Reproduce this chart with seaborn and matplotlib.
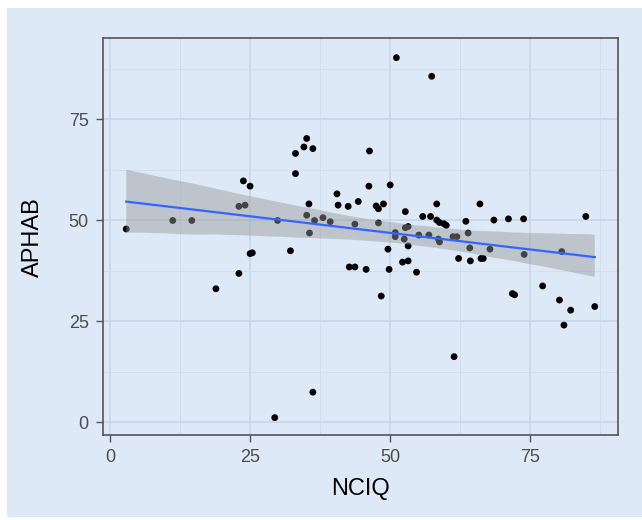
import numpy as np
import pandas as pd
import matplotlib
matplotlib.use("Agg")
import matplotlib.pyplot as plt
from matplotlib.patches import Rectangle
from matplotlib.ticker import MultipleLocator
import seaborn as sns

# Data
nciq = [2.9, 11.2, 14.6, 23.0, 24.1, 23.8, 25.0, 29.9, 32.2, 33.1,
        33.1, 34.6, 35.1, 36.2, 35.5, 35.1, 36.5, 35.6, 38.0, 39.3,
        40.5, 40.7, 42.5, 44.3, 43.7, 46.3, 46.2, 51.1, 57.4, 50.0,
        47.5, 47.9, 48.8, 47.9, 52.7, 50.9, 50.9, 52.5, 52.7, 53.2,
        53.2, 49.6, 55.1, 55.8, 57.2, 56.9, 58.3, 58.3, 58.8, 59.6,
        60.0, 58.6, 58.8, 61.2, 61.9, 63.5, 63.9, 64.2, 66.0, 67.8,
        68.5, 71.1, 73.8, 80.6, 84.9, 25.0, 25.4, 23.0, 18.9, 42.7,
        43.7, 45.7, 36.2, 29.4, 49.8, 48.4, 52.2, 53.2, 54.7, 62.2,
        64.3, 66.2, 66.6, 61.4, 73.9, 71.8, 72.2, 77.2, 80.2, 82.2,
        81.0, 86.5]
aphab = [47.9, 50.0, 50.0, 53.5, 53.8, 59.8, 58.5, 50.0, 42.5, 66.6,
         61.6, 68.2, 70.3, 67.8, 54.1, 51.3, 50.0, 46.9, 50.7, 49.7,
         56.6, 53.8, 53.5, 54.7, 49.1, 67.2, 58.5, 90.3, 85.7, 58.8,
         53.6, 52.9, 54.1, 49.4, 52.2, 47.0, 46.0, 45.4, 48.2, 48.5,
         43.7, 42.9, 46.4, 51.0, 51.0, 46.4, 54.1, 50.1, 49.5, 49.2,
         48.8, 45.4, 44.7, 46.0, 46.0, 49.8, 46.9, 43.2, 54.1, 42.9,
         50.1, 50.4, 50.4, 42.3, 51.0, 41.8, 42.0, 36.9, 33.1, 38.5,
         38.5, 37.9, 7.5, 1.2, 37.9, 31.3, 39.7, 40.0, 37.2, 40.6,
         40.0, 40.6, 40.6, 16.3, 41.6, 31.9, 31.6, 33.8, 30.3, 27.8,
         24.1, 28.7]

df = pd.DataFrame({"NCIQ": nciq, "APHAB": aphab})

bg = "#dde9f7"

fig = plt.figure(figsize=(6.42, 5.2), dpi=100, facecolor="white")
fig.patches.append(Rectangle((7 / 642, 0.006), 1, 1 - 8 / 520 - 0.006,
                             transform=fig.transFigure, facecolor=bg,
                             edgecolor="none", zorder=-10))
ax = fig.add_axes([102.7 / 642, 1 - 435 / 520, (618.3 - 102.7) / 642,
                   (435 - 38.3) / 520])
ax.set_facecolor(bg)

sns.scatterplot(data=df, x="NCIQ", y="APHAB", ax=ax, color="black",
                s=24, edgecolor="none", zorder=2)
sns.regplot(data=df, x="NCIQ", y="APHAB", ax=ax, scatter=False,
            color="#3366FF", ci=95, seed=3, line_kws={"lw": 1.6, "zorder": 4})

# ggplot-like grey band over the points
for coll in ax.collections[1:]:
    coll.set_alpha(None)
    coll.set_facecolor((0.6, 0.6, 0.6, 0.45))
    coll.set_edgecolor("none")
    coll.set_zorder(3)

ax.set_xlim(-1.3, 90.7)
ax.set_ylim(-3.1, 95.1)
ax.xaxis.set_major_locator(MultipleLocator(25))
ax.yaxis.set_major_locator(MultipleLocator(25))
ax.xaxis.set_minor_locator(MultipleLocator(12.5))
ax.yaxis.set_minor_locator(MultipleLocator(12.5))
ax.grid(which="major", color="#c6d4e4", lw=1.1, zorder=0)
ax.grid(which="minor", color="#cfdcea", lw=0.6, zorder=0)
ax.set_axisbelow(True)

for s in ax.spines.values():
    s.set_color("#555555")
    s.set_linewidth(1.2)

ax.tick_params(which="major", length=5, width=1.0, color="#555555",
               labelsize=13, labelcolor="#4d4d4d", pad=5)
ax.tick_params(which="minor", length=0)
for lab in ax.get_xticklabels() + ax.get_yticklabels():
    lab.set_family("Liberation Sans")

ax.set_xlabel("NCIQ", fontsize=17, family="Liberation Sans", color="black",
              labelpad=9)
ax.set_ylabel("APHAB", fontsize=17, family="Liberation Sans", color="black",
              labelpad=18)

fig.savefig("out.png", dpi=100, facecolor="white")
